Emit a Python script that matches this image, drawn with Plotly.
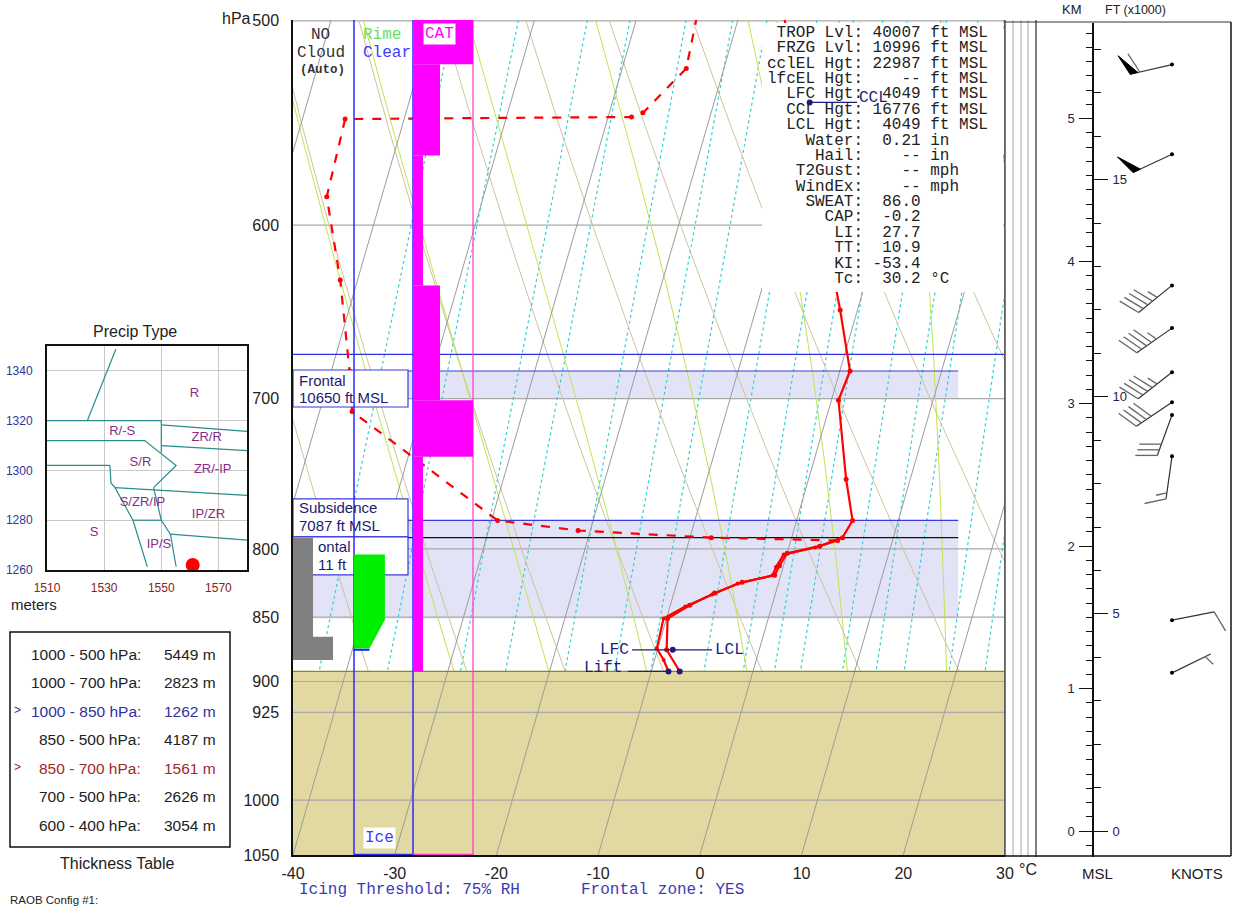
import numpy as np
import plotly.graph_objects as go

W, H = 1233, 907
SANS = "Liberation Sans"
MONO = "Liberation Mono"

P_TOP, P_BOT = 500.0, 1050.0
SKEW = 32.0  # degC of isotherm lean per unit ln(p)

# ---------------- sounding ----------------
temp_p = [892, 875, 851, 841, 832, 824, 819, 812, 803, 798, 792, 780, 752, 701, 683, 647, 500]
temp_c = [-7.2, -9.1, -9.9, -8.1, -6.0, -3.6, -0.6, -0.4, 0.0, 3.0, 5.0, 5.5, 3.7, 0.7, 1.0, -1.7, -15.4]

dewp_p = [892, 883, 874, 851, 842, 833, 825, 819, 813, 804, 799, 794]
dewp_c = [-8.3, -9.1, -10.1, -10.3, -8.5, -6.2, -4.0, -0.8, -0.7, -0.3, 2.6, 4.6]
dewp_est_p = [794, 792, 787, 780, 708, 683, 630, 585, 546, 545, 543, 522, 500]
dewp_est_c = [4.6, -7.9, -21.2, -29.4, -46.8, -48.2, -51.7, -55.4, -55.8, -27.7, -26.7, -23.7, -24.1]

sfc_p = 892
frz_p = 673
frontal_p = [683, 792]
subsid_p = 780
frontal_bands = [(683, 700), (780, 851)]

lcl_p, lcl_t = 875, -8.5
ccl_p, ccl_t = 538, -10.6

# turbulence (CAT) layers: bottom/top pressure and intensity 1..3
cat_layers = [(500, 520, 3), (520, 564, 2), (564, 633, 1), (633, 701, 2), (701, 737, 3), (737, 892, 1)]
# rime icing intensity profile
ice_p = [804, 852, 874]
ice_lvl = [3.0, 3.0, 1.5]
# cloud layers (bottom, top, amount)
cloud_layers = [(792, 883, 2), (865, 883, 4)]

# side indicator columns
col_yellow = [(522, 544), (875, 892)]
col_green = [(500, 523), (585, 683), (701, 780)]
col_blue = [(543, 585), (683, 701), (780, 875)]

# background line families
isotherms = list(range(-100, 40, 10))
dry_thetas = list(range(-40, 170, 10))
moist_thetaw = [-22, -13, -4, 5, 14, 23, 32]
mix_ratios = [0.1, 0.2, 0.4, 0.6, 1, 1.5, 2, 3, 4, 5, 6, 8, 10, 12, 16, 20, 24, 28]

# axis labels
t_ticks = list(range(-40, 31, 10))
t_tick_text = ["-40", "-30", "-20", "-10", "0", "10", "20", "30"]
p_ticks = [500, 600, 700, 800, 850, 900, 925, 1000, 1050]

# winds: height (km MSL), direction (deg), speed (kt)
wind_km = [5.38, 4.75, 3.83, 3.53, 3.22, 3.01, 2.92, 2.63, 1.48, 1.11]
wind_dir = [257, 245, 231, 235, 232, 236, 200, 188, 79, 64]
wind_kt = [60, 50, 45, 45, 45, 40, 30, 15, 10, 5]

# text panel
stats_labels = ["TROP Lvl", "FRZG Lvl", "cclEL Hgt", "lfcEL Hgt", "LFC Hgt", "CCL Hgt", "LCL Hgt",
                "Water", "Hail", "T2Gust", "WindEx", "SWEAT", "CAP", "LI", "TT", "KI", "Tc"]
stats_values = ["40007 ft MSL", "10996 ft MSL", "22987 ft MSL", "   -- ft MSL", " 4049 ft MSL",
                "16776 ft MSL", " 4049 ft MSL", " 0.21 in", "   -- in", "   -- mph", "   -- mph",
                " 86.0", " -0.2", " 27.7", " 10.9", "-53.4", " 30.2 °C"]

thick_ranges = ["1000 - 500 hPa:", "1000 - 700 hPa:", "1000 - 850 hPa:", "850 - 500 hPa:",
                "850 - 700 hPa:", "700 - 500 hPa:", "600 - 400 hPa:"]
thick_m = [5449, 2823, 1262, 4187, 1561, 2626, 3054]

# precip-type nomogram
precip_x = [1510, 1530, 1550, 1570]
precip_y = [1260, 1280, 1300, 1320, 1340]
precip_bounds = [
    [(1534.1, 1348.7), (1524.1, 1320)],
    [(1510, 1320), (1550, 1320), (1550, 1307.3)],
    [(1550, 1318.3), (1580, 1315.7)],
    [(1550, 1310), (1580, 1308)],
    [(1510, 1312), (1544.2, 1312), (1555.2, 1302), (1547.3, 1293.1)],
    [(1510, 1302), (1532, 1302), (1532.4, 1295), (1533.8, 1293.1), (1540.1, 1280), (1545.1, 1261.3)],
    [(1533.8, 1293.1), (1580, 1290)],
    [(1547.3, 1293.1), (1550, 1280), (1553.2, 1274.4), (1555.2, 1261.3)],
    [(1540.1, 1280), (1550, 1280)],
    [(1553.2, 1274.4), (1580, 1272)],
]
precip_names = ["R", "R/-S", "ZR/R", "S/R", "ZR/-IP", "S/ZR/IP", "IP/ZR", "S", "IP/S"]
precip_name_x = [1561.6, 1536.3, 1565.9, 1542.7, 1568.0, 1543.4, 1566.5, 1526.5, 1549.2]
precip_name_y = [1331, 1315.7, 1313, 1303, 1300.3, 1287, 1282, 1275, 1270.3]


# ---------------- helpers ----------------
def sk(t, p):
    return np.asarray(t, float) + SKEW * np.log(P_BOT / np.asarray(p, float))


def xd(px):   # main-plot x coordinate for a pixel column
    return (px - 293) / 10.171 - 40


def pd(py):   # main-plot pressure for a pixel row
    return 500 * np.exp((py - 20) / 1125.5)


def lg(p):
    return float(np.log10(p))


fig = go.Figure()


def add_lines(segs, color, width=1.0, dash="solid", xa="x", ya="y"):
    xs, ys = [], []
    for sx, sy in segs:
        xs += list(sx) + [None]
        ys += list(sy) + [None]
    fig.add_trace(go.Scatter(x=xs, y=ys, mode="lines", xaxis=xa, yaxis=ya,
                             line=dict(color=color, width=width, dash=dash),
                             hoverinfo="skip", showlegend=False))


def add_poly(xs, ys, fill, line_color=None, width=1.0, xa="x", ya="y"):
    fig.add_trace(go.Scatter(x=xs, y=ys, mode="lines", fill="toself", fillcolor=fill,
                             xaxis=xa, yaxis=ya,
                             line=dict(color=line_color or fill, width=width if line_color else 0),
                             hoverinfo="skip", showlegend=False))


def add_rect_px(px0, py0, px1, py1, fill, line_color=None, width=1.0):
    x0, x1 = xd(px0), xd(px1)
    p0, p1 = pd(py0), pd(py1)
    add_poly([x0, x1, x1, x0, x0], [p0, p0, p1, p1, p0], fill, line_color, width)


# ---------------- main skew-T ----------------
# frontal zone shading
for pb, pt in frontal_bands:
    add_poly([-40, 25.4, 25.4, -40, -40], [pb, pb, pt, pt, pb], "#e3e3f7")

# ground below the surface
add_poly([-40, 30, 30, -40, -40], [sfc_p, sfc_p, P_BOT, P_BOT, sfc_p], "#e2d8a2")

pp_air = np.geomspace(P_TOP, sfc_p, 80)

# isobars
add_lines([([-40, 30], [p, p]) for p in [500.4, 600, 700, 800, 850, 900, 925, 1000]], "#a9a9a9", 1.2)

# mixing ratio lines
segs = []
for w in mix_ratios:
    e = w * pp_air / (622 + w)
    le = np.log(e / 6.112)
    td = 243.5 * le / (17.67 - le)
    segs.append((sk(td, pp_air), pp_air))
add_lines(segs, "#33d0d0", 1.2, "dot")

# dry adiabats
segs = []
for th in dry_thetas:
    t = (th + 273.15) * (pp_air / 1000.0) ** 0.2857 - 273.15
    segs.append((sk(t, pp_air), pp_air))
add_lines(segs, "#d0c29c", 1.0)


# moist adiabats
def moist_curve(tw, ps):
    Rd, cp, Lv, eps = 287.04, 1005.7, 2.501e6, 0.622

    def dtdp(T, p):
        tc = T - 273.15
        es = 6.112 * np.exp(17.67 * tc / (tc + 243.5))
        rs = eps * es / (p - es)
        return (Rd * T + Lv * rs) / (cp + Lv * Lv * rs * eps / (Rd * T * T)) / p

    grid = np.arange(1000.0, 499.0, -2.0)
    T = tw + 273.15
    temps = [T]
    for i in range(1, len(grid)):
        h = grid[i] - grid[i - 1]
        p = grid[i - 1]
        k1 = dtdp(T, p)
        k2 = dtdp(T + h * k1 / 2, p + h / 2)
        T = T + h * k2
        temps.append(T)
    temps = np.array(temps) - 273.15
    return np.interp(ps, grid[::-1], temps[::-1])


segs = []
for tw in moist_thetaw:
    t = moist_curve(tw, pp_air)
    segs.append((sk(t, pp_air), pp_air))
add_lines(segs, "#c2e34f", 1.0)

# isotherms (drawn through the ground as well)
add_lines([(sk([t, t], [P_TOP, P_BOT]), [P_TOP, P_BOT]) for t in isotherms], "#9c9c9c", 1.0)

# ground top edge
add_lines([([-40, 30], [sfc_p, sfc_p])], "#8a8a10", 1.2)

# freezing level, frontal and subsidence levels
add_lines([([-40, 30], [frz_p, frz_p])], "#3030e0", 1.2)
add_lines([([-40, 25.4], [frontal_p[0], frontal_p[0]]), ([-40, 25.4], [subsid_p, subsid_p])], "#3a3ae0", 1.2)
add_lines([([-40, 25.4], [frontal_p[1], frontal_p[1]])], "#111111", 1.2)

# right frame of the diagram
add_lines([([30, 30], [P_TOP, P_BOT])], "#555555", 1.5)

# temperature and dew point
fig.add_trace(go.Scatter(x=sk(temp_c, temp_p), y=temp_p, mode="lines+markers",
                         line=dict(color="#ff0000", width=2.2), marker=dict(size=5, color="#ff0000"),
                         hoverinfo="skip", showlegend=False))
fig.add_trace(go.Scatter(x=sk(dewp_c, dewp_p), y=dewp_p, mode="lines+markers",
                         line=dict(color="#ff0000", width=2.2), marker=dict(size=4, color="#ff0000"),
                         hoverinfo="skip", showlegend=False))
fig.add_trace(go.Scatter(x=sk(dewp_est_c, dewp_est_p), y=dewp_est_p, mode="lines+markers",
                         line=dict(color="#ff0000", width=2.2, dash="dash"),
                         marker=dict(size=5, color="#ff0000"),
                         hoverinfo="skip", showlegend=False))

# stats panel background
add_rect_px(762, 23, 1003, 292, "#ffffff")

# label boxes
add_rect_px(293, 370, 408, 407, "#ffffff", "#3a3ae0", 1.2)
add_rect_px(293, 499, 408, 537, "#ffffff", "#3a3ae0", 1.2)
add_rect_px(293, 537, 408, 575, "#ffffff", "#3a3ae0", 1.2)

# icing / CAT column frames
c0, c1, c2, c3 = xd(293), xd(354), xd(413), xd(473)
add_lines([([c1, c1], [P_TOP, P_BOT]), ([c2, c2], [P_TOP, P_BOT]), ([c1, c2], [1049.5, 1049.5])], "#2a2aff", 1.5)
add_lines([([c3, c3], [P_TOP, P_BOT]), ([c2, c3], [1049.5, 1049.5])], "#ff33cc", 1.2)

# CAT intensity bars
cat_w = {1: 10, 2: 27, 3: 60}
for pb, pt, lvl in cat_layers:
    xr = xd(413 + cat_w[lvl])
    add_poly([c2, xr, xr, c2, c2], [pb, pb, pt, pt, pb], "#ff00ff")

# rime icing
ix = [c1] + [xd(354 + 10.3 * v) for v in ice_lvl] + [c1]
iy = [ice_p[0]] + ice_p + [ice_p[-1]]
add_poly(ix, iy, "#00ee00")
add_lines([([c1, xd(354 + 10.3 * ice_lvl[-1])], [ice_p[-1] + 1, ice_p[-1] + 1])], "#2020ff", 2)

# cloud layers
for pb, pt, amt in cloud_layers:
    xr = xd(293 + 10 * amt)
    add_poly([c0, xr, xr, c0, c0], [pb, pb, pt, pt, pb], "#808080")

# parcel markers
NAVY = "#1c1c7c"
add_lines([([xd(632), xd(712)], [lcl_p, lcl_p]),
           ([xd(628), sk(dewp_c[0], sfc_p)], [sfc_p, sfc_p]),
           ([sk(ccl_t, ccl_p), xd(857)], [ccl_p, ccl_p])], NAVY, 1.2)
fig.add_trace(go.Scatter(x=[float(sk(lcl_t, lcl_p)), float(sk(dewp_c[0], sfc_p)), float(sk(temp_c[0], sfc_p)),
                            float(sk(ccl_t, ccl_p))],
                         y=[lcl_p, sfc_p, sfc_p, ccl_p], mode="markers",
                         marker=dict(size=6, color=NAVY), hoverinfo="skip", showlegend=False))
# freezing-level pointer
fig.add_trace(go.Scatter(x=[xd(287)], y=[frz_p], mode="markers", cliponaxis=False,
                         marker=dict(symbol="triangle-right", size=9, color="#2020ff"),
                         hoverinfo="skip", showlegend=False))

# ---------------- precip-type nomogram ----------------
add_lines([([a for a, b in seg], [b for a, b in seg]) for seg in precip_bounds], "#2a8c8c", 1.2, xa="x3", ya="y3")
fig.add_trace(go.Scatter(x=precip_name_x, y=precip_name_y, mode="text", text=precip_names,
                         textfont=dict(family=SANS, size=13, color="#8a2a8a"), xaxis="x3", yaxis="y3",
                         hoverinfo="skip", showlegend=False))
fig.add_trace(go.Scatter(x=[thick_m[4]], y=[thick_m[2]], mode="markers", xaxis="x3", yaxis="y3",
                         cliponaxis=False, marker=dict(size=14, color="#ff0000"),
                         hoverinfo="skip", showlegend=False))

# ---------------- winds ----------------
KM_PX = 142.46
STAFF_X = 79.0
lines_x, lines_y, tri_x, tri_y, dots_x, dots_y = [], [], [], [], [], []
staff_x, staff_y = [], []
for km, d, spd in zip(wind_km, wind_dir, wind_kt):
    th = np.radians(d)
    ux, uy = np.sin(th), np.cos(th)
    L = 43.0
    tx, ty = ux * L, uy * L
    a = np.radians(-70)
    fx = ux * np.cos(a) - uy * np.sin(a)
    fy = ux * np.sin(a) + uy * np.cos(a)

    def to_ax(dx, dy):
        return STAFF_X + dx, km + dy / KM_PX

    for px_, py_ in [(0, 0), (tx, ty)]:
        X_, Y_ = to_ax(px_, py_)
        staff_x.append(X_); staff_y.append(Y_)
    staff_x.append(None); staff_y.append(None)
    dots_x.append(STAFF_X); dots_y.append(km)

    n50 = spd // 50
    rem = spd - 50 * n50
    n10 = rem // 10
    n5 = (rem - 10 * n10) // 5
    pos = 0.0
    for _ in range(n50):
        bx, by = tx - ux * pos, ty - uy * pos
        b2x, b2y = tx - ux * (pos + 8), ty - uy * (pos + 8)
        for q in [(bx, by), (bx + fx * 22, by + fy * 22), (b2x, b2y), (bx, by)]:
            X_, Y_ = to_ax(*q)
            tri_x.append(X_); tri_y.append(Y_)
        tri_x.append(None); tri_y.append(None)
        pos += 10
    for _ in range(n10):
        bx, by = tx - ux * pos, ty - uy * pos
        for q in [(bx, by), (bx + fx * 22, by + fy * 22)]:
            X_, Y_ = to_ax(*q)
            lines_x.append(X_); lines_y.append(Y_)
        lines_x.append(None); lines_y.append(None)
        pos += 6
    if n5:
        if pos == 0:
            pos = 6
        bx, by = tx - ux * pos, ty - uy * pos
        for q in [(bx, by), (bx + fx * 11, by + fy * 11)]:
            X_, Y_ = to_ax(*q)
            lines_x.append(X_); lines_y.append(Y_)
        lines_x.append(None); lines_y.append(None)

fig.add_trace(go.Scatter(x=staff_x, y=staff_y, mode="lines", xaxis="x4", yaxis="y4",
                         line=dict(color="#333333", width=1.2), hoverinfo="skip", showlegend=False))
fig.add_trace(go.Scatter(x=lines_x, y=lines_y, mode="lines", xaxis="x4", yaxis="y4",
                         line=dict(color="#666666", width=1.3), hoverinfo="skip", showlegend=False))
fig.add_trace(go.Scatter(x=tri_x, y=tri_y, mode="lines", fill="toself", fillcolor="#000000",
                         xaxis="x4", yaxis="y4", line=dict(color="#000000", width=1),
                         hoverinfo="skip", showlegend=False))
fig.add_trace(go.Scatter(x=dots_x, y=dots_y, mode="markers", xaxis="x4", yaxis="y4",
                         marker=dict(size=4, color="#000000"), hoverinfo="skip", showlegend=False))
KM_LO, KM_HI = (831 - 857) / KM_PX, (831 - 23) / KM_PX
fig.add_trace(go.Scatter(x=[0], y=[KM_LO * 3.28084], mode="markers", xaxis="x4", yaxis="y5",
                         marker=dict(opacity=0), hoverinfo="skip", showlegend=False))

# ---------------- shapes ----------------
shapes = []


def pshape(px0, py0, px1, py1, **kw):
    d = dict(xref="paper", yref="paper", x0=px0 / W, x1=px1 / W, y0=1 - py0 / H, y1=1 - py1 / H)
    d.update(kw)
    shapes.append(d)


# side indicator columns
for xx, col in [(1005, "#555555"), (1013, "#b5b5b5"), (1021, "#b5b5b5"), (1028, "#b5b5b5"), (1036, "#555555")]:
    pshape(xx, 20, xx, 857, type="line", line=dict(color=col, width=1.5 if col == "#555555" else 1.2))
for layers, xa, xb, col in [(col_yellow, 1014, 1019.5, "#ffd800"), (col_green, 1021.5, 1027.5, "#22dd22"),
                            (col_blue, 1029, 1035, "#0000ff")]:
    for pb, pt in layers:
        shapes.append(dict(type="rect", xref="paper", yref="y", x0=xa / W, x1=xb / W,
                           y0=lg(pb), y1=lg(pt), fillcolor=col, line=dict(width=0)))
# frames
pshape(293, 856, 1231, 856, type="line", line=dict(color="#111111", width=1.5))
pshape(1005, 22, 1231, 22, type="line", line=dict(color="#333333", width=1.2))
pshape(1231, 22, 1231, 856, type="line", line=dict(color="#111111", width=1.5))
# thickness table
pshape(10, 632, 230, 847, type="rect", line=dict(color="#111111", width=1.5))

# ---------------- annotations ----------------
ann = []


def text(s, px, py, size=16, color="#222222", family=SANS, xa="center", ya="middle", **kw):
    ann.append(dict(text=s, x=px / W, y=1 - py / H, xref="paper", yref="paper", xanchor=xa, yanchor=ya,
                    showarrow=False, font=dict(size=size, color=color, family=family), **kw))


NB = "\u00a0"
for i, (lab, val) in enumerate(zip(stats_labels, stats_values)):
    s = (lab.rjust(9) + ": " + val).replace(" ", NB)
    text(s, 765, 33 + i * 15.37, size=16, family=MONO, xa="left")
text("CCL", 857, 98, size=16, color=NAVY, family=MONO, xa="left")
text("LFC", 631, 650, size=16, color=NAVY, family=MONO, xa="right")
text("LCL", 713, 650, size=16, color=NAVY, family=MONO, xa="left")
text("Lift", 624, 668, size=16, color=NAVY, family=MONO, xa="right")

text("NO", 320, 35, family=MONO, color="#333333")
text("Cloud", 321, 53, family=MONO, color="#333333")
text("<b>(Auto)</b>", 323, 70, size=12.5, family=MONO, color="#333333")
text("Rime", 361, 35, family=MONO, color="#66dd66", xa="left")
text("Clear", 361, 53, family=MONO, color="#3c3cff", xa="left")
text("CAT", 439, 34, family=MONO, color="#ff00ff", bgcolor="#ffffff", borderpad=1)
text("Ice", 380, 838, family=MONO, color="#3c3cff", bgcolor="#ffffff", borderpad=1)

text("Frontal", 297, 380, size=15, color="#1c1c6e", xa="left")
text("10650 ft MSL", 297, 397, size=15, color="#1c1c6e", xa="left")
text("Subsidence", 297, 508, size=15, color="#1c1c6e", xa="left")
text("7087 ft MSL", 297, 525, size=15, color="#1c1c6e", xa="left")
text("ontal", 316, 546, size=15, color="#1c1c6e", xa="left")
text("11 ft", 316, 564, size=15, color="#1c1c6e", xa="left")

text("hPa", 236, 18)
text("°C", 1028, 869)
text("Icing Threshold: 75% RH", 297, 890, family=MONO, color="#3c3cb4", xa="left")
text("Frontal zone: YES", 579, 890, family=MONO, color="#3c3cb4", xa="left")

text("KM", 1072, 10, size=13)
text("FT (x1000)", 1135, 10, size=12.5)
text("MSL", 1097, 873, size=15)
text("KNOTS", 1197, 873, size=15)

text("Precip Type", 135, 331, size=16)
text("meters", 9, 604, size=15, xa="left")
for i, (rng, val) in enumerate(zip(thick_ranges, thick_m)):
    col = "#222222"
    if i == 2:
        col = "#3030a0"
    elif i == 4:
        col = "#a02828"
    yy = 654 + i * 28.5
    text(rng, 143, yy, size=15.5, color=col, xa="right")
    text(f"{val} m", 162, yy, size=15.5, color=col, xa="left")
    if i in (2, 4):
        text(">", 17, yy - 1, size=12, color=col)
text("Thickness Table", 117, 863, size=16)
text("RAOB Config #1:", 8, 900, size=11.5, xa="left")

# ---------------- layout ----------------
fig.update_layout(
    width=W, height=H, margin=dict(l=0, r=0, t=0, b=0, pad=0, autoexpand=False),
    paper_bgcolor="white", plot_bgcolor="white", showlegend=False,
    font=dict(family=SANS, color="#222222"),
    xaxis=dict(domain=[293 / W, 1005 / W], range=[-40, 30], tickvals=t_ticks, ticktext=t_tick_text,
               showgrid=False, zeroline=False, showline=True, linecolor="#111111", linewidth=1.5,
               ticks="", tickfont=dict(size=16, color="#222222"), ticklabelstandoff=3, anchor="y"),
    yaxis=dict(domain=[1 - 855 / H, 1 - 20 / H], type="log", range=[np.log10(P_BOT), np.log10(P_TOP)],
               tickvals=p_ticks, ticktext=[str(p) for p in p_ticks],
               showgrid=False, zeroline=False, showline=True, linecolor="#111111", linewidth=1.5,
               ticks="", tickfont=dict(size=16, color="#222222"), ticklabelstandoff=9, anchor="x"),
    xaxis3=dict(domain=[47 / W, 247 / W], range=[1510, 1580], tickvals=precip_x, anchor="y3",
                showgrid=True, gridcolor="#c8c8c8", gridwidth=1, zeroline=False,
                showline=True, mirror=True, linecolor="#111111", linewidth=2, ticks="",
                tickfont=dict(size=12, color="#8b2020"), ticklabelstandoff=6),
    yaxis3=dict(domain=[1 - 570 / H, 1 - 346 / H], range=[1260, 1350], tickvals=precip_y, anchor="x3",
                showgrid=True, gridcolor="#c8c8c8", gridwidth=1, zeroline=False,
                showline=True, mirror=True, linecolor="#111111", linewidth=2, ticks="",
                tickfont=dict(size=12, color="#33339a"), ticklabelstandoff=10),
    xaxis4=dict(domain=[1093 / W, 1231 / W], range=[0, 138], visible=False, anchor="y4"),
    yaxis4=dict(domain=[1 - 857 / H, 1 - 23 / H], range=[KM_LO, KM_HI], anchor="free", position=1093 / W,
                side="left", tickvals=[0, 1, 2, 3, 4, 5], ticks="outside", ticklen=13, tickwidth=1.3,
                tickcolor="#111111", showline=True, linecolor="#111111", linewidth=1.5,
                showgrid=False, zeroline=False, tickfont=dict(size=13, color="#22224a"),
                ticklabelstandoff=2,
                minor=dict(dtick=0.1, ticklen=6, tickcolor="#111111", tickwidth=1, ticks="outside",
                           showgrid=False)),
    yaxis5=dict(domain=[1 - 857 / H, 1 - 23 / H], range=[KM_LO * 3.28084, KM_HI * 3.28084],
                overlaying="y4", anchor="free", position=1093 / W, side="right",
                tickvals=[0, 5, 10, 15], ticks="outside", ticklen=14, tickwidth=1.3, tickcolor="#111111",
                showline=False, showgrid=False, zeroline=False, tickfont=dict(size=13, color="#22224a"),
                ticklabelstandoff=2,
                minor=dict(dtick=1, ticklen=7, tickcolor="#111111", tickwidth=1, ticks="outside",
                           showgrid=False)),
    shapes=shapes, annotations=ann,
)

fig.write_html("out.html")
